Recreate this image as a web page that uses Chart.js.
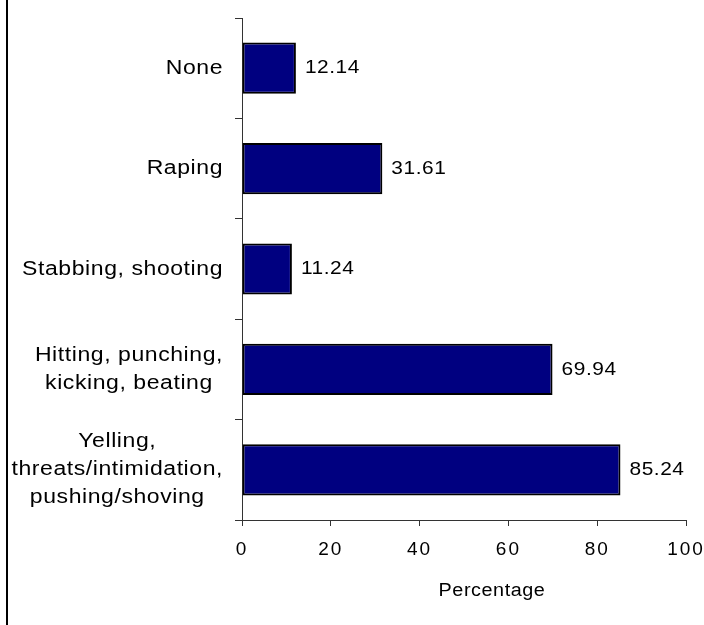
<!DOCTYPE html>
<html>
<head>
<meta charset="utf-8">
<script src="https://cdn.jsdelivr.net/npm/chart.js@4.4.0/dist/chart.umd.min.js"></script>
<style>
    body { margin: 0; background: #fff; }
    #wrap { position: relative; width: 704px; height: 625px; }
    #frame { position: absolute; left: 6px; top: 0; width: 2px; height: 625px; background: #000; }
    canvas { position: absolute; left: 0; top: 0; }
</style>
</head>
<body>
<div id="wrap">
    <canvas id="chart" width="704" height="625"></canvas>
    <div id="frame"></div>
</div>
<script>
const categories = [
    ["None"],
    ["Raping"],
    ["Stabbing, shooting"],
    ["Hitting, punching,", "kicking, beating"],
    ["Yelling,", "threats/intimidation,", "pushing/shoving"],
];
const values = [12.14, 31.61, 11.24, 69.94, 85.24];
const xTicks = [0, 20, 40, 60, 80, 100];
const axisTitle = "Percentage";

const FONT = '"Liberation Sans", Arial, sans-serif';

// the original text is a bit wide, so draw it slightly stretched
function wideText(ctx, text, x, y, sx) {
    ctx.save();
    ctx.translate(x, y);
    ctx.scale(sx, 1);
    ctx.fillText(text, 0, 0);
    ctx.restore();
}

// y labels, value labels and axis title are drawn here so the multi-line
// labels can be centred line by line like the original
const textPlugin = {
    id: 'textPlugin',
    beforeDraw(chart) {
        chart.ctx.letterSpacing = '2px';
    },
    afterDraw(chart) {
        const ctx = chart.ctx;
        const yScale = chart.scales.y;
        const area = chart.chartArea;
        ctx.save();
        ctx.letterSpacing = '0.5px';
        ctx.fillStyle = '#000';
        ctx.textBaseline = 'middle';
        ctx.textAlign = 'center';

        const sy = 1.15;
        ctx.font = '20px ' + FONT;
        categories.forEach((lines, i) => {
            const cy = yScale.getPixelForValue(i);
            const widest = Math.max(...lines.map(l => ctx.measureText(l).width)) * sy;
            const cx = area.left - 19 - widest / 2;
            lines.forEach((line, j) => {
                wideText(ctx, line, cx, cy + (j - (lines.length - 1) / 2) * 28, sy);
            });
        });

        ctx.textAlign = 'left';
        ctx.font = '19px ' + FONT;
        const meta = chart.getDatasetMeta(0);
        meta.data.forEach((bar, i) => {
            wideText(ctx, values[i].toFixed(2), bar.x + 9, bar.y, 1.1);
        });

        ctx.textAlign = 'center';
        ctx.font = '18px ' + FONT;
        wideText(ctx, axisTitle, (area.left + area.right) / 2 + 28, 591, 1.1);
        ctx.restore();
    }
};

new Chart(document.getElementById('chart'), {
    type: 'bar',
    data: {
        labels: categories,
        datasets: [{
            data: values,
            backgroundColor: '#000080',
            borderColor: '#000',
            borderWidth: 2,
            borderSkipped: false,
            barPercentage: 0.51,
            categoryPercentage: 1,
        }]
    },
    options: {
        indexAxis: 'y',
        responsive: false,
        animation: false,
        layout: { padding: { top: 18, right: 18, left: 0, bottom: 0 } },
        plugins: {
            legend: { display: false },
            tooltip: { enabled: false },
        },
        scales: {
            x: {
                min: 0,
                max: 100,
                afterBuildTicks: (scale) => {
                    scale.ticks = xTicks.map(v => ({ value: v }));
                },
                grid: {
                    drawOnChartArea: false,
                    drawTicks: true,
                    tickLength: 6,
                    color: '#333',
                },
                border: { color: '#333', width: 1 },
                ticks: {
                    color: '#000',
                    font: { family: FONT, size: 19 },
                    padding: 12,
                    maxRotation: 0,
                },
                afterFit: (scale) => {
                    scale.height = 105;
                    scale.paddingLeft = 0;
                    scale.paddingRight = 0;
                },
            },
            y: {
                grid: {
                    drawOnChartArea: false,
                    drawTicks: true,
                    tickLength: 7,
                    offset: true,
                    color: '#333',
                },
                border: { color: '#333', width: 1 },
                ticks: { display: false },
                afterFit: (scale) => {
                    scale.width = 242;
                },
            },
        },
    },
    plugins: [textPlugin],
});
</script>
</body>
</html>
